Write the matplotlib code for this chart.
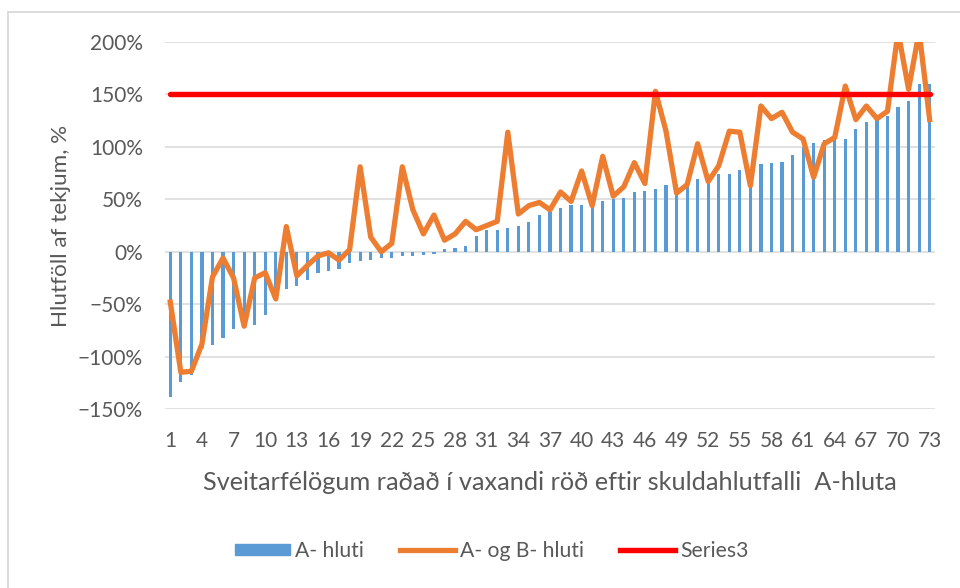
import numpy as np
import matplotlib.pyplot as plt
from matplotlib.lines import Line2D
from matplotlib.ticker import PercentFormatter

# sveitarfélög 1..73, raðað eftir skuldahlutfalli A-hluta
a_hluti = [-139, -124, -118, -92, -89, -82, -74, -72, -70, -60,
           -45, -36, -33, -27, -20, -18, -16, -11, -9, -8,
           -6, -5.5, -4, -4, -3, -2.5, 3, 4, 5, 15,
           21, 21, 23, 25, 28, 35, 38, 42, 45, 45,
           46, 48.5, 50, 51, 57, 58, 60, 64, 65, 66,
           69, 71, 74, 74, 78, 79, 84, 85, 86, 92,
           100, 104, 106.5, 107, 108, 117.5, 124, 126, 129, 138,
           144, 160, 160]
a_og_b_hluti = [-48, -115, -114, -88, -24, -6, -25, -71, -25, -20,
                -45, 24, -23, -13, -4, -1, -8, 2, 81, 14,
                0, 8, 81, 40, 17, 35, 11, 17, 29, 21,
                25, 29, 114, 36, 44, 47, 40, 57, 48, 77,
                44, 91, 53, 62, 85, 65, 153, 115, 56, 64,
                103, 67, 82, 115, 114, 63, 139, 127, 133, 114,
                107.5, 71, 103, 109, 158, 126, 139, 127, 134, 210,
                155, 210, 126]
series3 = [150] * 73

labels = ['A- hluti', 'A- og B- hluti', 'Series3']
ylabel = 'Hlutföll af tekjum, %'
xlabel = 'Sveitarfélögum raðað í vaxandi röð eftir skuldahlutfalli  A-hluta'

plt.rcParams['font.family'] = ['Lato', 'DejaVu Sans']
txt = '#595959'

x = np.arange(1, len(a_hluti) + 1)

fig = plt.figure(figsize=(9.6, 5.88), dpi=100)
ax = fig.add_axes([0.1719, 0.3044, 0.802, 0.6241])

ax.bar(x, a_hluti, width=0.3, color='#5B9BD5', zorder=2)
ax.plot(x, a_og_b_hluti, color='#ED7D31', lw=3.8, solid_joinstyle='round', zorder=3)
ax.plot(x, series3, color='#FF0000', lw=3.9, solid_capstyle='round', zorder=4)

ax.set_xlim(0.5, 73.5)
ax.set_ylim(-150, 200)
ax.set_yticks(np.arange(-150, 201, 50))
ax.yaxis.set_major_formatter(PercentFormatter(decimals=0))
ax.set_xticks(x[::3])
ax.grid(axis='y', color='#D9D9D9', lw=1.1, zorder=0)
for s in ax.spines.values():
    s.set_visible(False)
ax.tick_params(axis='both', length=0, colors=txt, labelsize=15)
ax.tick_params(axis='y', pad=16)
ax.tick_params(axis='x', pad=16)

ax.set_ylabel(ylabel, color=txt, fontsize=16.2, labelpad=5)
ax.set_xlabel(xlabel, color=txt, fontsize=18.2, labelpad=14)

handles = [plt.Rectangle((0, 0), 1, 1, color='#5B9BD5'),
           Line2D([0], [0], color='#ED7D31', lw=3.8),
           Line2D([0], [0], color='#FF0000', lw=3.9)]
fig.legend(handles, labels, loc='center', bbox_to_anchor=(0.512, 0.063), ncol=3,
           frameon=False, fontsize=15.2, labelcolor=txt, handlelength=2.6,
           handletextpad=0.25, columnspacing=1.7, handleheight=0.45)

# ramminn um grafið
fig.add_artist(Line2D([8 / 960, 1], [1 - 12 / 588, 1 - 12 / 588], color='#D9D9D9', lw=1.3))
fig.add_artist(Line2D([8 / 960, 8 / 960], [0, 1 - 12 / 588], color='#D9D9D9', lw=1.3))

fig.savefig('out.png', dpi=100)
